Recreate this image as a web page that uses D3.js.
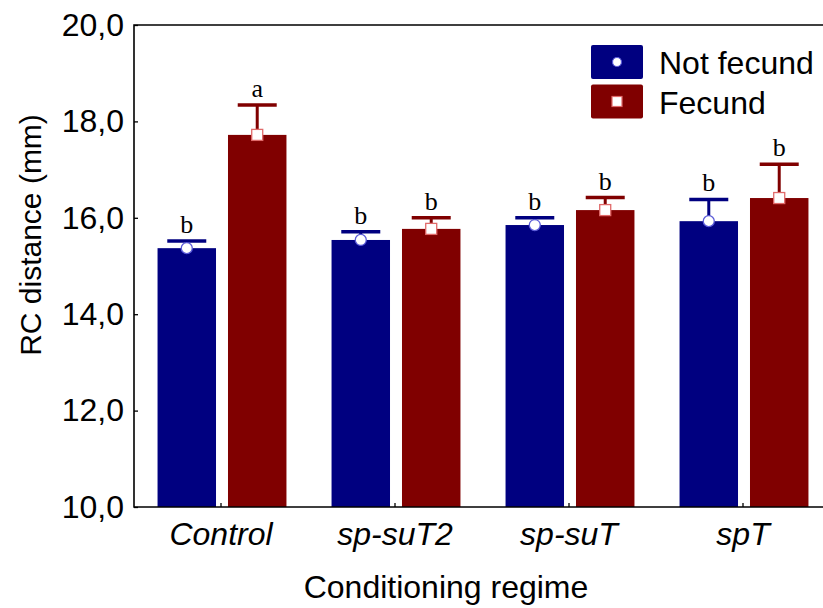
<!DOCTYPE html>
<html>
<head>
<meta charset="utf-8">
<script src="https://cdn.jsdelivr.net/npm/d3@7"></script>
<style>
  html, body { margin: 0; padding: 0; background: #fff; }
  svg { display: block; }
</style>
</head>
<body>
<svg id="chart" width="823" height="608"></svg>
<script>
// Conditioning regimes on the x axis
const categories = ["Control", "sp-suT2", "sp-suT", "spT"];
const seriesNames = ["Not fecund", "Fecund"];

// Mean RC distance (mm) per regime
const notFecundMean = [15.37, 15.54, 15.85, 15.93];
const fecundMean    = [17.72, 15.77, 16.16, 16.41];

// Upper end of the error bar (mean + error)
const notFecundUpper = [15.52, 15.71, 16.00, 16.38];
const fecundUpper    = [18.34, 16.00, 16.42, 17.11];

// Significance letters above each bar
const notFecundLetters = ["b", "b", "b", "b"];
const fecundLetters    = ["a", "b", "b", "b"];

const yTicks = [10, 12, 14, 16, 18, 20];

const colors = { "Not fecund": "#000080", "Fecund": "#800000" };
const markerStroke = { "Not fecund": "#5a5ad8", "Fecund": "#e06a6a" };

const sans = "'Liberation Sans', Arial, sans-serif";
const svg = d3.select("#chart");
const plotLeft = 134, plotTop = 25, plotBottom = 507, plotRight = 830;

const x0 = d3.scaleBand().domain(categories).range([plotLeft, plotRight]).paddingInner(0).paddingOuter(0);
const x1 = d3.scaleBand().domain(seriesNames).range([1, x0.bandwidth() + 1])
  .paddingInner(0.17).paddingOuter(0.32);
const y = d3.scaleLinear().domain([10, 20]).range([plotBottom, plotTop]);

const rows = [];
categories.forEach((c, i) => {
  rows.push({ cat: c, s: "Not fecund", mean: notFecundMean[i], upper: notFecundUpper[i], letter: notFecundLetters[i] });
  rows.push({ cat: c, s: "Fecund", mean: fecundMean[i], upper: fecundUpper[i], letter: fecundLetters[i] });
});
const centerX = d => x0(d.cat) + x1(d.s) + x1.bandwidth() / 2;

// Bars
svg.append("g").selectAll("rect").data(rows).join("rect")
  .attr("x", d => x0(d.cat) + x1(d.s))
  .attr("y", d => y(d.mean))
  .attr("width", x1.bandwidth())
  .attr("height", d => y(10) - y(d.mean))
  .attr("fill", d => colors[d.s]);

// Error bars
const eb = svg.append("g");
rows.forEach(d => {
  const cx = centerX(d);
  eb.append("line")
    .attr("x1", cx).attr("x2", cx)
    .attr("y1", y(d.mean)).attr("y2", y(d.upper))
    .attr("stroke", colors[d.s]).attr("stroke-width", 3);
  eb.append("line")
    .attr("x1", cx - 19.5).attr("x2", cx + 19.5)
    .attr("y1", y(d.upper)).attr("y2", y(d.upper))
    .attr("stroke", colors[d.s]).attr("stroke-width", 3.5);
});

// Mean markers
rows.forEach(d => {
  const cx = centerX(d);
  if (d.s === "Not fecund") {
    svg.append("circle").attr("cx", cx).attr("cy", y(d.mean)).attr("r", 5.5)
      .attr("fill", "#fff").attr("stroke", markerStroke[d.s]).attr("stroke-width", 1.3);
  } else {
    svg.append("rect").attr("x", cx - 5.5).attr("y", y(d.mean) - 5.5)
      .attr("width", 11).attr("height", 11)
      .attr("fill", "#fff").attr("stroke", markerStroke[d.s]).attr("stroke-width", 1.3);
  }
});

// Letters
svg.append("g").selectAll("text").data(rows).join("text")
  .attr("x", centerX)
  .attr("y", d => y(d.upper) - 8)
  .attr("text-anchor", "middle")
  .attr("font-family", "'Liberation Serif', 'Times New Roman', serif")
  .attr("font-size", 26)
  .attr("fill", "#000")
  .text(d => d.letter);

// Frame: left, top and bottom lines
svg.append("path")
  .attr("d", `M823,${plotTop}H${plotLeft}V${plotBottom}H823`)
  .attr("stroke", "#000").attr("stroke-width", 1.6).attr("fill", "none");

// Y axis ticks (inside) and labels
const yAxis = d3.axisLeft(y).tickValues(yTicks).tickSizeInner(-4).tickSizeOuter(0)
  .tickPadding(10).tickFormat(d => d3.format(".1f")(d).replace(".", ","));
const gy = svg.append("g").attr("transform", `translate(${plotLeft},0)`).call(yAxis);
gy.select(".domain").remove();
gy.selectAll(".tick line").attr("stroke", "#000").attr("stroke-width", 1.3);
gy.selectAll("text").attr("font-family", sans)
  .attr("font-size", 32).attr("fill", "#000");

// X axis ticks (inside) and category labels
const xAxis = d3.axisBottom(x0).tickSizeInner(-4).tickSizeOuter(0).tickPadding(14);
const gx = svg.append("g").attr("transform", `translate(0,${plotBottom})`).call(xAxis);
gx.select(".domain").remove();
gx.selectAll(".tick line").attr("stroke", "#000").attr("stroke-width", 1.3);
gx.selectAll("text").attr("font-family", sans)
  .attr("font-size", 32).attr("font-style", "italic").attr("fill", "#000")
  .attr("dy", null).attr("y", 38);

// Axis titles
svg.append("text")
  .attr("x", 446).attr("y", 598)
  .attr("text-anchor", "middle")
  .attr("font-family", sans)
  .attr("font-size", 32).attr("fill", "#000")
  .text("Conditioning regime");

svg.append("text")
  .attr("transform", "translate(41,235) rotate(-90)")
  .attr("text-anchor", "middle")
  .attr("font-family", sans)
  .attr("font-size", 30).attr("fill", "#000")
  .text("RC distance (mm)");

// Legend
const legend = svg.append("g").attr("transform", "translate(591,45)");
seriesNames.forEach((s, i) => {
  const g = legend.append("g").attr("transform", `translate(0,${i * 39.5})`);
  g.append("rect").attr("width", 52).attr("height", 34).attr("rx", 2).attr("fill", colors[s]);
  if (s === "Not fecund") {
    g.append("circle").attr("cx", 26).attr("cy", 17).attr("r", 4.5)
      .attr("fill", "#fff").attr("stroke", markerStroke[s]).attr("stroke-width", 1.2);
  } else {
    g.append("rect").attr("x", 21).attr("y", 12).attr("width", 10).attr("height", 10)
      .attr("fill", "#fff").attr("stroke", markerStroke[s]).attr("stroke-width", 1.2);
  }
  g.append("text").attr("x", 68).attr("y", 29)
    .attr("font-family", sans)
    .attr("font-size", 32).attr("fill", "#000")
    .text(s);
});
</script>
</body>
</html>
